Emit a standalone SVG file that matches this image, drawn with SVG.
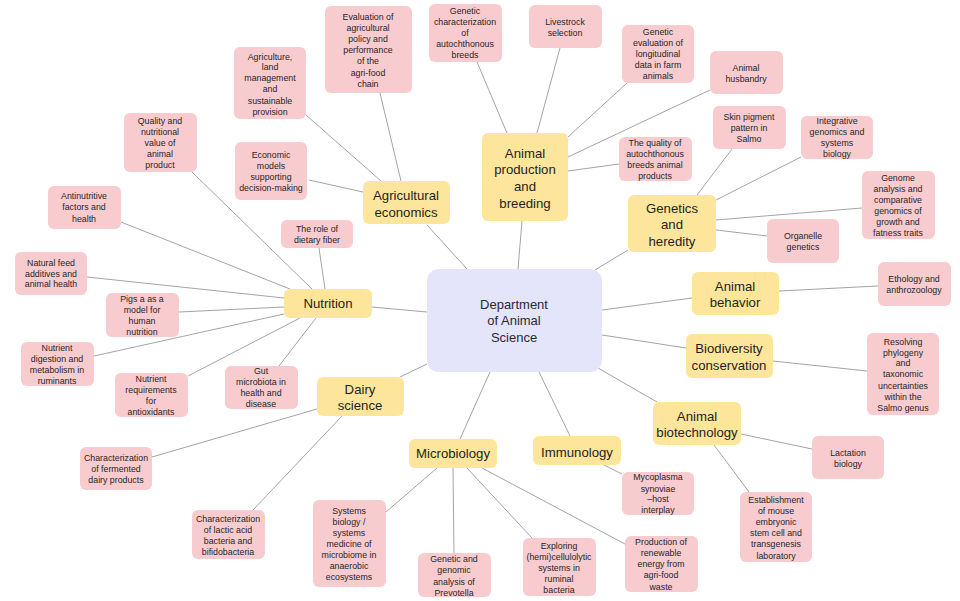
<svg xmlns="http://www.w3.org/2000/svg" width="960" height="601" viewBox="0 0 960 601">
<style>
.bg{fill:#ffffff}
.leaf rect{fill:#f8cbcf;rx:6px}
.cat rect{fill:#fde69b;rx:6px}
.hub rect{fill:#e4e4fa;rx:12px}
.leaf text{font-family:"Liberation Sans",Arial,sans-serif;font-size:8.8px;fill:#262626;text-anchor:middle}
.cat text{font-family:"Liberation Sans",Arial,sans-serif;font-size:13.2px;fill:#1e1e1e;text-anchor:middle}
.hub text{font-family:"Liberation Sans",Arial,sans-serif;font-size:13px;fill:#2a2a33;text-anchor:middle}
#connectors line{stroke:#a4a4a4;stroke-width:1}
</style>
<rect class="bg" x="0" y="0" width="960" height="601"/>
<g id="connectors">
<line x1="427" y1="225" x2="467" y2="269"/>
<line x1="522" y1="221" x2="518" y2="269"/>
<line x1="628" y1="250" x2="595" y2="270"/>
<line x1="602" y1="310" x2="692" y2="298"/>
<line x1="602" y1="335" x2="686" y2="348"/>
<line x1="598" y1="368" x2="657" y2="402"/>
<line x1="539" y1="372" x2="570" y2="436"/>
<line x1="490" y1="372" x2="460" y2="439"/>
<line x1="427" y1="364" x2="400" y2="377"/>
<line x1="372" y1="307" x2="427" y2="312"/>
<line x1="380" y1="93" x2="401" y2="181"/>
<line x1="306" y1="115" x2="381" y2="181"/>
<line x1="309" y1="180" x2="363" y2="192"/>
<line x1="477" y1="62" x2="507" y2="133"/>
<line x1="560" y1="48" x2="537" y2="133"/>
<line x1="627" y1="83" x2="568" y2="137"/>
<line x1="710" y1="90" x2="568" y2="157"/>
<line x1="619" y1="164" x2="568" y2="171"/>
<line x1="732" y1="149" x2="697" y2="195"/>
<line x1="801" y1="157" x2="716" y2="200"/>
<line x1="862" y1="208" x2="716" y2="220"/>
<line x1="767" y1="236" x2="716" y2="230"/>
<line x1="779" y1="291" x2="878" y2="286"/>
<line x1="773" y1="361" x2="867" y2="371"/>
<line x1="741" y1="434" x2="812" y2="449"/>
<line x1="714" y1="445" x2="749" y2="492"/>
<line x1="604" y1="465" x2="622" y2="474"/>
<line x1="437" y1="468" x2="386" y2="512"/>
<line x1="453" y1="468" x2="454" y2="553"/>
<line x1="467" y1="468" x2="532" y2="538"/>
<line x1="482" y1="468" x2="625" y2="544"/>
<line x1="317" y1="409" x2="152" y2="457"/>
<line x1="342" y1="416" x2="253" y2="510"/>
<line x1="192" y1="172" x2="312" y2="289"/>
<line x1="121" y1="222" x2="290" y2="289"/>
<line x1="319" y1="248" x2="325" y2="289"/>
<line x1="87" y1="277" x2="284" y2="298"/>
<line x1="179" y1="312" x2="284" y2="307"/>
<line x1="94" y1="356" x2="284" y2="314"/>
<line x1="188" y1="376" x2="300" y2="318"/>
<line x1="279" y1="366" x2="316" y2="318"/>
</g>
<g id="hub" class="hub">
<rect x="427" y="269" width="175" height="103"/>
<text x="514"><tspan x="514" y="309">Department</tspan><tspan x="514" y="325">of Animal</tspan><tspan x="514" y="342">Science</tspan></text>
</g>
<g id="agricultural-economics" class="cat">
<rect x="363" y="181" width="87" height="43"/>
<text><tspan x="406" y="200">Agricultural</tspan><tspan x="406" y="217">economics</tspan></text>
</g>
<g id="animal-production" class="cat">
<rect x="482" y="133" width="86" height="88"/>
<text><tspan x="525" y="158">Animal</tspan><tspan x="525" y="174">production</tspan><tspan x="525" y="191">and</tspan><tspan x="525" y="208">breeding</tspan></text>
</g>
<g id="genetics" class="cat">
<rect x="628" y="195" width="88" height="57"/>
<text><tspan x="672" y="213">Genetics</tspan><tspan x="672" y="229">and</tspan><tspan x="672" y="246">heredity</tspan></text>
</g>
<g id="nutrition" class="cat">
<rect x="284" y="289" width="88" height="29"/>
<text><tspan x="328" y="308">Nutrition</tspan></text>
</g>
<g id="animal-behavior" class="cat">
<rect x="692" y="272" width="87" height="43"/>
<text><tspan x="735" y="291">Animal</tspan><tspan x="735" y="307">behavior</tspan></text>
</g>
<g id="biodiversity" class="cat">
<rect x="686" y="334" width="87" height="44"/>
<text><tspan x="729" y="353">Biodiversity</tspan><tspan x="729" y="370">conservation</tspan></text>
</g>
<g id="dairy" class="cat">
<rect x="317" y="377" width="87" height="39"/>
<text><tspan x="360" y="394">Dairy</tspan><tspan x="360" y="410">science</tspan></text>
</g>
<g id="biotechnology" class="cat">
<rect x="653" y="402" width="88" height="43"/>
<text><tspan x="697" y="421">Animal</tspan><tspan x="697" y="437">biotechnology</tspan></text>
</g>
<g id="immunology" class="cat">
<rect x="533" y="436" width="88" height="29"/>
<text><tspan x="577" y="457">Immunology</tspan></text>
</g>
<g id="microbiology" class="cat">
<rect x="409" y="439" width="88" height="29"/>
<text><tspan x="453" y="458">Microbiology</tspan></text>
</g>
<g id="leaf-evaluation" class="leaf">
<rect x="325" y="6" width="87" height="87"/>
<text><tspan x="368" y="20">Evaluation of</tspan><tspan x="368" y="31">agricultural</tspan><tspan x="368" y="42">policy and</tspan><tspan x="368" y="53">performance</tspan><tspan x="368" y="64">of the</tspan><tspan x="368" y="76">agri-food</tspan><tspan x="368" y="87">chain</tspan></text>
</g>
<g id="leaf-genetic-char" class="leaf">
<rect x="429" y="4" width="73" height="58"/>
<text><tspan x="465" y="14">Genetic</tspan><tspan x="465" y="25">characterization</tspan><tspan x="465" y="36">of</tspan><tspan x="465" y="47">autochthonous</tspan><tspan x="465" y="58">breeds</tspan></text>
</g>
<g id="leaf-livestock" class="leaf">
<rect x="529" y="5" width="73" height="43"/>
<text><tspan x="565" y="25">Livestrock</tspan><tspan x="565" y="36">selection</tspan></text>
</g>
<g id="leaf-genetic-eval" class="leaf">
<rect x="622" y="25" width="72" height="58"/>
<text><tspan x="658" y="35">Genetic</tspan><tspan x="658" y="46">evaluation of</tspan><tspan x="658" y="57">longitudinal</tspan><tspan x="658" y="68">data in farm</tspan><tspan x="658" y="79">animals</tspan></text>
</g>
<g id="leaf-husbandry" class="leaf">
<rect x="710" y="51" width="73" height="43"/>
<text><tspan x="746" y="71">Animal</tspan><tspan x="746" y="82">husbandry</tspan></text>
</g>
<g id="leaf-agriculture" class="leaf">
<rect x="234" y="47" width="72" height="72"/>
<text><tspan x="270" y="60">Agriculture,</tspan><tspan x="270" y="70">land</tspan><tspan x="270" y="81">management</tspan><tspan x="270" y="92">and</tspan><tspan x="270" y="104">sustainable</tspan><tspan x="270" y="115">provision</tspan></text>
</g>
<g id="leaf-quality" class="leaf">
<rect x="124" y="113" width="73" height="59"/>
<text><tspan x="160" y="124">Quality and</tspan><tspan x="160" y="135">nutritional</tspan><tspan x="160" y="146">value of</tspan><tspan x="160" y="157">animal</tspan><tspan x="160" y="168">product</tspan></text>
</g>
<g id="leaf-economic" class="leaf">
<rect x="235" y="142" width="72" height="58"/>
<text><tspan x="271" y="158">Economic</tspan><tspan x="271" y="169">models</tspan><tspan x="271" y="180">supporting</tspan><tspan x="271" y="191">decision-making</tspan></text>
</g>
<g id="leaf-skin" class="leaf">
<rect x="713" y="106" width="73" height="43"/>
<text><tspan x="749" y="120">Skin pigment</tspan><tspan x="749" y="131">pattern in</tspan><tspan x="749" y="142">Salmo</tspan></text>
</g>
<g id="leaf-integrative" class="leaf">
<rect x="801" y="116" width="72" height="43"/>
<text><tspan x="837" y="124">Integrative</tspan><tspan x="837" y="135">genomics and</tspan><tspan x="837" y="146">systems</tspan><tspan x="837" y="157">biology</tspan></text>
</g>
<g id="leaf-quality-auto" class="leaf">
<rect x="619" y="137" width="73" height="44"/>
<text><tspan x="655" y="146">The quality of</tspan><tspan x="655" y="157">autochthonous</tspan><tspan x="655" y="168">breeds animal</tspan><tspan x="655" y="179">products</tspan></text>
</g>
<g id="leaf-genome" class="leaf">
<rect x="862" y="171" width="73" height="68"/>
<text><tspan x="898" y="181">Genome</tspan><tspan x="898" y="192">analysis and</tspan><tspan x="898" y="203">comparative</tspan><tspan x="898" y="214">genomics of</tspan><tspan x="898" y="225">growth and</tspan><tspan x="898" y="236">fatness traits</tspan></text>
</g>
<g id="leaf-antinutritive" class="leaf">
<rect x="48" y="186" width="73" height="43"/>
<text><tspan x="84" y="199">Antinutritive</tspan><tspan x="84" y="210">factors and</tspan><tspan x="84" y="222">health</tspan></text>
</g>
<g id="leaf-fiber" class="leaf">
<rect x="281" y="220" width="72" height="28"/>
<text><tspan x="317" y="232">The role of</tspan><tspan x="317" y="243">dietary fiber</tspan></text>
</g>
<g id="leaf-organelle" class="leaf">
<rect x="767" y="219" width="72" height="44"/>
<text><tspan x="803" y="239">Organelle</tspan><tspan x="803" y="250">genetics</tspan></text>
</g>
<g id="leaf-natural" class="leaf">
<rect x="15" y="252" width="72" height="43"/>
<text><tspan x="51" y="266">Natural feed</tspan><tspan x="51" y="277">additives and</tspan><tspan x="51" y="287">animal health</tspan></text>
</g>
<g id="leaf-ethology" class="leaf">
<rect x="878" y="262" width="73" height="44"/>
<text><tspan x="914" y="282">Ethology and</tspan><tspan x="914" y="293">anthrozoology</tspan></text>
</g>
<g id="leaf-pigs" class="leaf">
<rect x="106" y="293" width="73" height="44"/>
<text><tspan x="142" y="302">Pigs a as a</tspan><tspan x="142" y="313">model for</tspan><tspan x="142" y="324">human</tspan><tspan x="142" y="335">nutrition</tspan></text>
</g>
<g id="leaf-digestion" class="leaf">
<rect x="21" y="342" width="73" height="44"/>
<text><tspan x="57" y="351">Nutrient</tspan><tspan x="57" y="362">digestion and</tspan><tspan x="57" y="373">metabolism in</tspan><tspan x="57" y="384">ruminants</tspan></text>
</g>
<g id="leaf-resolving" class="leaf">
<rect x="867" y="333" width="72" height="82"/>
<text><tspan x="903" y="345">Resolving</tspan><tspan x="903" y="356">phylogeny</tspan><tspan x="903" y="366">and</tspan><tspan x="903" y="377">taxonomic</tspan><tspan x="903" y="389">uncertainties</tspan><tspan x="903" y="400">within the</tspan><tspan x="903" y="411">Salmo genus</tspan></text>
</g>
<g id="leaf-gut" class="leaf">
<rect x="225" y="366" width="73" height="43"/>
<text><tspan x="261" y="374">Gut</tspan><tspan x="261" y="385">microbiota in</tspan><tspan x="261" y="396">health and</tspan><tspan x="261" y="407">disease</tspan></text>
</g>
<g id="leaf-requirements" class="leaf">
<rect x="115" y="373" width="73" height="44"/>
<text><tspan x="151" y="382">Nutrient</tspan><tspan x="151" y="393">requirements</tspan><tspan x="151" y="404">for</tspan><tspan x="151" y="415">antioxidants</tspan></text>
</g>
<g id="leaf-lactation" class="leaf">
<rect x="812" y="436" width="72" height="43"/>
<text><tspan x="848" y="456">Lactation</tspan><tspan x="848" y="467">biology</tspan></text>
</g>
<g id="leaf-fermented" class="leaf">
<rect x="80" y="447" width="72" height="43"/>
<text><tspan x="116" y="461">Characterization</tspan><tspan x="116" y="472">of fermented</tspan><tspan x="116" y="483">dairy products</tspan></text>
</g>
<g id="leaf-mycoplasma" class="leaf">
<rect x="622" y="472" width="72" height="43"/>
<text><tspan x="658" y="480">Mycoplasma</tspan><tspan x="658" y="492">synoviae</tspan><tspan x="658" y="502">–host</tspan><tspan x="658" y="513">interplay</tspan></text>
</g>
<g id="leaf-establishment" class="leaf">
<rect x="740" y="492" width="72" height="70"/>
<text><tspan x="776" y="503">Establishment</tspan><tspan x="776" y="514">of mouse</tspan><tspan x="776" y="525">embryonic</tspan><tspan x="776" y="536">stem cell and</tspan><tspan x="776" y="547">transgenesis</tspan><tspan x="776" y="559">laboratory</tspan></text>
</g>
<g id="leaf-systems" class="leaf">
<rect x="313" y="500" width="73" height="87"/>
<text><tspan x="349" y="514">Systems</tspan><tspan x="349" y="525">biology /</tspan><tspan x="349" y="536">systems</tspan><tspan x="349" y="547">medicine of</tspan><tspan x="349" y="558">microbiome in</tspan><tspan x="349" y="569">anaerobic</tspan><tspan x="349" y="580">ecosystems</tspan></text>
</g>
<g id="leaf-lactic" class="leaf">
<rect x="192" y="510" width="73" height="49"/>
<text><tspan x="228" y="522">Characterization</tspan><tspan x="228" y="533">of lactic acid</tspan><tspan x="228" y="544">bacteria and</tspan><tspan x="228" y="555">bifidobacteria</tspan></text>
</g>
<g id="leaf-prevotella" class="leaf">
<rect x="418" y="553" width="73" height="44"/>
<text><tspan x="454" y="562">Genetic and</tspan><tspan x="454" y="573">genomic</tspan><tspan x="454" y="585">analysis of</tspan><tspan x="454" y="596">Prevotella</tspan></text>
</g>
<g id="leaf-exploring" class="leaf">
<rect x="523" y="538" width="73" height="58"/>
<text><tspan x="559" y="549">Exploring</tspan><tspan x="559" y="560">(hemi)cellulolytic</tspan><tspan x="559" y="571">systems in</tspan><tspan x="559" y="582">ruminal</tspan><tspan x="559" y="593">bacteria</tspan></text>
</g>
<g id="leaf-renewable" class="leaf">
<rect x="625" y="536" width="73" height="56"/>
<text><tspan x="661" y="545">Production of</tspan><tspan x="661" y="556">renewable</tspan><tspan x="661" y="567">energy from</tspan><tspan x="661" y="578">agri-food</tspan><tspan x="661" y="590">waste</tspan></text>
</g>
</svg>
